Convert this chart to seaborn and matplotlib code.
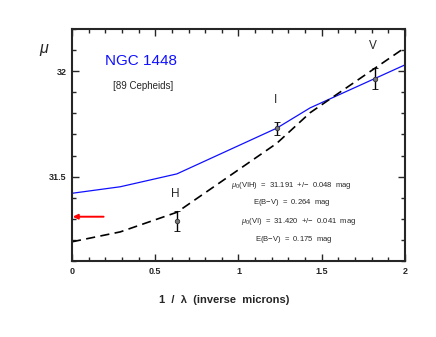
import matplotlib
matplotlib.use("Agg")
import matplotlib.pyplot as plt
import seaborn as sns
import pandas as pd
from matplotlib.ticker import MultipleLocator

# ---- data ----
x_knots = [0.0, 0.29, 0.63, 1.23, 1.43, 2.0]
mu_vi = [31.421, 31.452, 31.513, 31.730, 31.826, 32.030]     # blue solid (VI fit)
mu_vih = [31.191, 31.238, 31.331, 31.658, 31.803, 32.112]    # black dashed (VIH fit)

bands = ["H", "I", "V"]
inv_lambda = [0.630, 1.233, 1.818]
mu_obs = [31.289, 31.730, 31.965]
mu_err = [0.047, 0.031, 0.050]

title = "NGC 1448"
subtitle = "[89 Cepheids]"
ann_lines = [
    r"$\mu_0$(VIH)  =  31.191  +/$-$  0.048  mag",
    "E(B$-$V)  =  0.264  mag",
    r"$\mu_0$(VI)  =  31.420  +/$-$  0.041  mag",
    "E(B$-$V)  =  0.175  mag",
]
arrow_mu = 31.31

sns.set_style("ticks")
plt.rcParams["font.family"] = ["Liberation Sans", "DejaVu Sans"]
plt.rcParams["mathtext.fontset"] = "custom"
plt.rcParams["mathtext.rm"] = "Liberation Sans"
plt.rcParams["mathtext.it"] = "Liberation Sans:italic"

fig = plt.figure(figsize=(4.36, 3.37), dpi=100)
ax = fig.add_axes([0.165, 0.2255, 0.764, 0.6885])

df_vi = pd.DataFrame({"x": x_knots, "mu": mu_vi})
df_vih = pd.DataFrame({"x": x_knots, "mu": mu_vih})
sns.lineplot(data=df_vi, x="x", y="mu", ax=ax, color="#1010ff", lw=0.9, sort=False)
sns.lineplot(data=df_vih, x="x", y="mu", ax=ax, color="black", lw=1.2, sort=False,
             dashes=False)
ax.lines[-1].set_dashes((5.5, 3.2))

ax.errorbar(inv_lambda, mu_obs, yerr=mu_err, fmt="o", ms=3.2, mfc="#777777",
            mec="#333333", mew=0.6, ecolor="black", elinewidth=1.0, capsize=2.2,
            capthick=1.0, zorder=5)

label_offsets = [0.128, 0.135, 0.155]
for b, xv, yv, off in zip(bands, inv_lambda, mu_obs, label_offsets):
    ax.text(xv - 0.01, yv + off, b, ha="center", va="center", fontsize=8.5)

ax.text(0.415, 32.046, title, color="#1010ff", fontsize=11, ha="center", va="center")
ax.text(0.427, 31.932, subtitle, fontsize=7, ha="center", va="center")

ann_pos = [(1.316, 31.456), (1.32, 31.376), (1.36, 31.286), (1.33, 31.203)]
for t, (xp, yp) in zip(ann_lines, ann_pos):
    ax.text(xp, yp, t, fontsize=5.5, ha="center", va="center")

ax.annotate("", xy=(0.005, arrow_mu), xytext=(0.19, arrow_mu),
            arrowprops=dict(arrowstyle="-|>", color="red", lw=1.4,
                            mutation_scale=7, shrinkA=0, shrinkB=0))

ax.set_xlim(0, 2)
ax.set_ylim(31.1, 32.2)
ax.xaxis.set_major_locator(MultipleLocator(0.5))
ax.xaxis.set_minor_locator(MultipleLocator(0.1))
ax.yaxis.set_major_locator(MultipleLocator(0.5))
ax.yaxis.set_minor_locator(MultipleLocator(0.1))
ax.set_xticks([0, 0.5, 1, 1.5, 2])
ax.set_xticklabels(["0", "0.5", "1", "1.5", "2"])
ax.set_yticks([31.5, 32])
ax.set_yticklabels(["31.5", "32"])
ax.tick_params(which="both", direction="in", top=True, right=True, width=1.0)
ax.tick_params(which="major", length=5, labelsize=6.5, pad=4)
ax.tick_params(which="minor", length=3)
for lab in ax.get_xticklabels() + ax.get_yticklabels():
    lab.set_fontweight("bold")
for s in ax.spines.values():
    s.set_linewidth(1.5)

ax.set_xlabel("")
ax.set_ylabel("")
fig.text(224 / 436, 1 - 300 / 337, "1  /  λ  (inverse  microns)", fontsize=8,
         fontweight="bold", ha="center", va="center")
fig.text(44 / 436, 1 - 49 / 337, "μ", fontsize=11.5, style="italic",
         ha="center", va="center")

fig.savefig("out.png", dpi=100)
